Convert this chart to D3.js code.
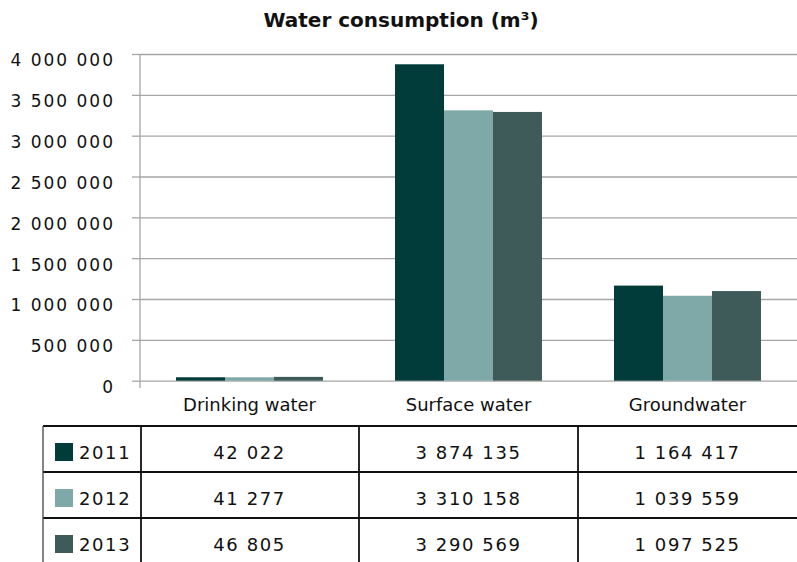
<!DOCTYPE html>
<html>
<head>
<meta charset="utf-8">
<script src="https://cdn.jsdelivr.net/npm/d3@7"></script>
<style>
  body { margin: 0; background: #fff; }
  svg { display: block; font-family: 'DejaVu Sans', sans-serif; }
</style>
</head>
<body>
<div id="chart"></div>
<script>
let categories = ['Drinking water', 'Surface water', 'Groundwater']
let years = ['2011', '2012', '2013']
let values2011 = [42022, 3874135, 1164417]
let values2012 = [41277, 3310158, 1039559]
let values2013 = [46805, 3290569, 1097525]
let yTicks = [0, 500000, 1000000, 1500000, 2000000, 2500000, 3000000, 3500000, 4000000]

let colors = ['#023c3a', '#7ea9a8', '#3e5b5a']
let series = [values2011, values2012, values2013]

let width = 797
let height = 562

let fmt = d3.formatLocale({ decimal: ',', thousands: ' ', grouping: [3], currency: ['', ''] }).format(',d')

let svg = d3
  .select('#chart')
  .append('svg')
  .attr('width', width)
  .attr('height', height)

// scales
let x0 = d3.scaleBand().domain(categories).range([140, 797])
let x1 = d3.scaleBand().domain(years).range([0, x0.bandwidth()]).paddingOuter(0.735)
let y = d3.scaleLinear().domain([0, 4000000]).range([380.7, 54])

// title
svg
  .append('text')
  .attr('x', 401)
  .attr('y', 27)
  .attr('text-anchor', 'middle')
  .attr('font-size', 20)
  .attr('font-weight', 'bold')
  .attr('fill', '#111')
  .text('Water consumption (m³)')

// gridlines
svg
  .append('g')
  .attr('transform', 'translate(140,0)')
  .call(d3.axisLeft(y).tickValues(yTicks).tickSize(-(797 - 140)).tickFormat(''))
  .call(g => g.select('.domain').remove())
  .call(g => g.selectAll('line').attr('stroke', '#a6a6a6').attr('stroke-width', 1.3))

// y axis with outward ticks
let yAxis = svg
  .append('g')
  .attr('transform', 'translate(140,0)')
  .call(d3.axisLeft(y).tickValues(yTicks).tickSize(8).tickSizeOuter(0).tickPadding(17).tickFormat(fmt))

yAxis.select('.domain').remove()
yAxis.selectAll('line').attr('stroke', '#a6a6a6').attr('stroke-width', 1.3)
yAxis
  .selectAll('text')
  .attr('font-family', 'DejaVu Sans')
  .attr('font-size', 17)
  .attr('letter-spacing', 2)
  .attr('fill', '#111')
  .attr('dy', '0.7em')

svg
  .append('line')
  .attr('x1', 140)
  .attr('x2', 140)
  .attr('y1', y(4000000))
  .attr('y2', 388)
  .attr('stroke', '#a6a6a6')
  .attr('stroke-width', 1.3)

// bars
categories.forEach((cat, ci) => {
  years.forEach((yr, yi) => {
    let v = series[yi][ci]
    svg
      .append('rect')
      .attr('x', x0(cat) + x1(yr))
      .attr('y', y(v))
      .attr('width', x1.bandwidth())
      .attr('height', y(0) - y(v))
      .attr('fill', colors[yi])
  })
})

// category labels
svg
  .selectAll('.cat-label')
  .data(categories)
  .enter()
  .append('text')
  .attr('class', 'cat-label')
  .attr('x', d => x0(d) + x0.bandwidth() / 2)
  .attr('y', 411)
  .attr('text-anchor', 'middle')
  .attr('font-size', 18)
  .attr('fill', '#111')
  .text(d => d)

// data table
let tableTop = 426
let rowH = 46
let tableLeft = 43

let rowY = d3.scaleBand().domain(years).range([tableTop, tableTop + rowH * years.length])

years.forEach((yr, yi) => {
  let top = rowY(yr)
  svg
    .append('line')
    .attr('x1', tableLeft)
    .attr('x2', width)
    .attr('y1', top)
    .attr('y2', top)
    .attr('stroke', '#111')
    .attr('stroke-width', 1.8)

  svg
    .append('rect')
    .attr('x', 55)
    .attr('y', top + 17)
    .attr('width', 18)
    .attr('height', 18)
    .attr('fill', colors[yi])

  svg
    .append('text')
    .attr('x', 79)
    .attr('y', top + 33)
    .attr('font-size', 18)
    .attr('letter-spacing', 1.6)
    .attr('fill', '#111')
    .text(yr)

  categories.forEach((cat, ci) => {
    svg
      .append('text')
      .attr('x', x0(cat) + x0.bandwidth() / 2)
      .attr('y', top + 33)
      .attr('text-anchor', 'middle')
      .attr('font-size', 18)
      .attr('letter-spacing', 1.6)
      .attr('fill', '#111')
      .text(fmt(series[yi][ci]))
  })
})

// table verticals
svg
  .append('line')
  .attr('x1', tableLeft)
  .attr('x2', tableLeft)
  .attr('y1', tableTop)
  .attr('y2', height)
  .attr('stroke', '#444')
  .attr('stroke-width', 1.3)

let verticals = [141].concat(categories.slice(1).map(c => x0(c)))
svg
  .selectAll('.vline')
  .data(verticals)
  .enter()
  .append('line')
  .attr('class', 'vline')
  .attr('x1', d => d)
  .attr('x2', d => d)
  .attr('y1', tableTop)
  .attr('y2', height)
  .attr('stroke', '#111')
  .attr('stroke-width', 1.8)
</script>
</body>
</html>
